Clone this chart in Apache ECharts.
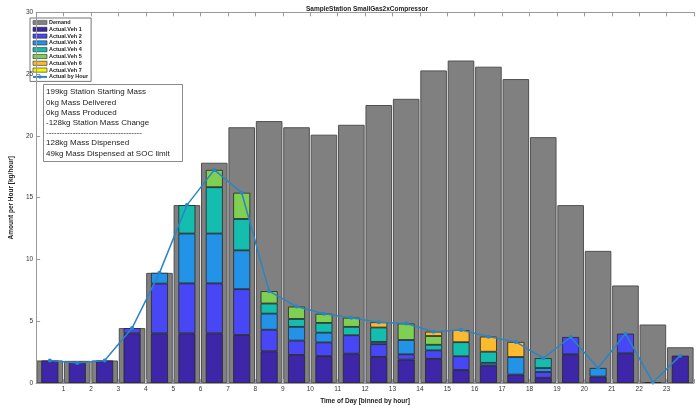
<!DOCTYPE html>
<html>
<head>
<meta charset="utf-8">
<script src="https://cdn.jsdelivr.net/npm/echarts@6/dist/echarts.min.js"></script>
<style>
  html, body { margin: 0; padding: 0; background: #fff; }
  #chart { width: 697px; height: 410px; }
</style>
</head>
<body>
<div id="chart"></div>
<script>
// Hourly bins 0..23
const hours = [0,1,2,3,4,5,6,7,8,9,10,11,12,13,14,15,16,17,18,19,20,21,22,23];
// Boundary tick labels shown under the axis
const tickLabels = [1,2,3,4,5,6,7,8,9,10,11,12,13,14,15,16,17,18,19,20,21,22,23];

// Hydrogen demand per hour [kg/hour]
const demand = [1.83,1.8,1.83,4.45,8.92,14.4,17.83,20.7,21.2,20.7,20.1,20.9,22.5,23.0,25.3,26.1,25.6,24.6,19.9,14.4,10.7,7.9,4.74,2.9];

// Mass actually dispensed to each vehicle per hour [kg/hour]
const veh1 = [1.83,1.63,1.83,4.02,4.02,4.02,4.02,3.89,2.57,2.28,2.18,2.38,2.12,1.9,1.96,1.06,1.43,0.69,0.43,2.33,0.53,2.41,0.05,2.22];
const veh2 = [0,0,0,0.43,4.03,4.05,4.05,3.71,1.75,1.16,1.11,1.49,1.03,0.43,0.69,1.11,0,0,0.47,1.4,0,1.59,0,0];
const veh3 = [0,0,0,0,0.87,4.03,4.03,3.14,1.3,1.11,0.79,0,0.18,1.16,0,0,0.21,1.42,0.32,0,0.69,0,0,0];
const veh4 = [0,0,0,0,0,2.3,3.75,2.54,0.82,0.64,0.79,0.68,1.17,0,0.45,1.14,0.9,0,0.8,0,0,0,0,0];
const veh5 = [0,0,0,0,0,0,1.4,2.12,1.0,1.0,0.74,0.74,0,1.33,0.71,0,0,0,0,0,0,0,0,0];
const veh6 = [0,0,0,0,0,0,0,0,0,0,0,0,0.42,0,0.35,0.98,1.22,1.22,0,0,0,0,0,0];
const veh7 = [0,0,0,0,0,0,0,0,0,0,0,0,0,0,0,0,0,0,0,0,0,0,0,0];

// Total dispensed per hour [kg/hour]
const actualByHour = [1.83,1.63,1.83,4.45,8.92,14.4,17.25,15.4,7.44,6.19,5.61,5.29,4.92,4.82,4.16,4.29,3.76,3.33,2.02,3.73,1.22,4.0,0.05,2.22];

const vehNames = ['Actual.Veh 1','Actual.Veh 2','Actual.Veh 3','Actual.Veh 4','Actual.Veh 5','Actual.Veh 6','Actual.Veh 7'];
const vehData = [veh1, veh2, veh3, veh4, veh5, veh6, veh7];
const vehColors = ['#3E26A8','#4747F5','#2393E8','#15BDAE','#7ECF52','#FCBA2F','#F4F40A'];

const summaryLines = [
  '199kg Station Starting Mass',
  '0kg Mass Delivered',
  '0kg Mass Produced',
  '-128kg Station Mass Change',
  '------------------------------------',
  '128kg Mass Dispensed',
  '49kg Mass Dispensed at SOC limit'
];

const FONT = 'Liberation Sans';
const AXIS_GRAY = '#9a9a9a';

const chart = echarts.init(document.getElementById('chart'), null, { renderer: 'canvas' });

const vehSeries = vehData.map((arr, i) => ({
  name: vehNames[i],
  type: 'bar',
  xAxisIndex: 1,
  yAxisIndex: 0,
  stack: 'veh',
  barWidth: 17,
  z: 3,
  itemStyle: { color: vehColors[i], borderColor: '#262626', borderWidth: 0.8 },
  data: arr.map(v => (v > 0 ? v : null))
}));

const option = {
  animation: false,
  textStyle: { fontFamily: FONT },
  title: [
    {
      text: 'SampleStation SmallGas2xCompressor',
      left: 362, top: 1, textAlign: 'center',
      textStyle: { fontSize: 6.5, fontWeight: 'bold', color: '#222', fontFamily: FONT }
    },
    {
      text: summaryLines.join('\n'),
      left: 43, top: 84,
      padding: [3, 13, 3, 3],
      backgroundColor: '#ffffff',
      borderColor: '#8a8a8a',
      borderWidth: 1,
      textStyle: { fontSize: 8, lineHeight: 10.2, fontWeight: 'normal', color: '#222', fontFamily: FONT }
    }
  ],
  legend: {
    orient: 'vertical',
    left: 30, top: 18,
    padding: [1.5, 3, 1.5, 2],
    itemWidth: 14,
    itemHeight: 4.2,
    itemGap: 0.8,
    backgroundColor: '#ffffff',
    borderColor: '#777',
    borderWidth: 1,
    borderRadius: 0,
    itemStyle: { borderWidth: 0.6 },
    textStyle: { fontSize: 5.5, fontWeight: 'bold', color: '#222', lineHeight: 5.8, fontFamily: FONT, padding: [0, 0, 0, -3] },
    data: [{ name: 'Demand', icon: 'rect' }]
      .concat(vehNames.map(n => ({ name: n, icon: 'rect' })))
      .concat([{ name: 'Actual by Hour' }])
  },
  grid: { left: 24.6, top: 12.3, width: 675.2, height: 378.4, containLabel: false },
  xAxis: [
    { type: 'category', data: hours, show: false, boundaryGap: true, gridIndex: 0 },
    { type: 'category', data: hours, show: false, boundaryGap: true, gridIndex: 0 },
    {
      type: 'value', min: 0, max: 24, interval: 1, position: 'bottom', gridIndex: 0,
      name: 'Time of Day [binned by hour]', nameLocation: 'middle', nameGap: 13,
      nameTextStyle: { fontSize: 6.5, fontWeight: 'bold', color: '#222', fontFamily: FONT },
      axisLine: { show: true, lineStyle: { color: AXIS_GRAY, width: 1 } },
      axisTick: { show: true, inside: true, length: 4, lineStyle: { color: AXIS_GRAY } },
      axisLabel: {
        fontSize: 6.5, color: '#333', margin: 3,
        formatter: v => (tickLabels.indexOf(v) >= 0 ? String(v) : '')
      },
      splitLine: { show: false },
      z: 10
    },
    {
      type: 'value', min: 0, max: 24, interval: 1, position: 'top', gridIndex: 0,
      axisLine: { show: true, lineStyle: { color: AXIS_GRAY, width: 1 } },
      axisTick: { show: true, inside: true, length: 4, lineStyle: { color: AXIS_GRAY } },
      axisLabel: { show: false },
      splitLine: { show: false },
      z: 10
    }
  ],
  yAxis: [
    {
      type: 'value', min: 0, max: 30, interval: 5, position: 'left',
      name: 'Amount per Hour [kg/hour]', nameLocation: 'middle', nameGap: 13,
      nameTextStyle: { fontSize: 6.5, fontWeight: 'bold', color: '#222', fontFamily: FONT },
      axisLine: { show: true, lineStyle: { color: AXIS_GRAY, width: 1 } },
      axisTick: { show: true, inside: true, length: 4, lineStyle: { color: AXIS_GRAY } },
      axisLabel: { fontSize: 6.5, color: '#333', margin: 3 },
      splitLine: { show: false },
      z: 10
    }
  ],
  series: [
    {
      name: 'Demand',
      type: 'bar',
      xAxisIndex: 0,
      yAxisIndex: 0,
      barWidth: '97%',
      z: 2,
      itemStyle: { color: '#808080', borderColor: '#505050', borderWidth: 1 },
      data: demand
    }
  ].concat(vehSeries).concat([
    {
      name: 'Actual by Hour',
      type: 'line',
      xAxisIndex: 0,
      yAxisIndex: 0,
      z: 5,
      symbol: 'circle',
      symbolSize: 4,
      showAllSymbol: true,
      lineStyle: { color: '#2a84c6', width: 1.5 },
      itemStyle: { color: '#2a84c6' },
      data: actualByHour
    }
  ])
};

chart.setOption(option);
</script>
</body>
</html>
